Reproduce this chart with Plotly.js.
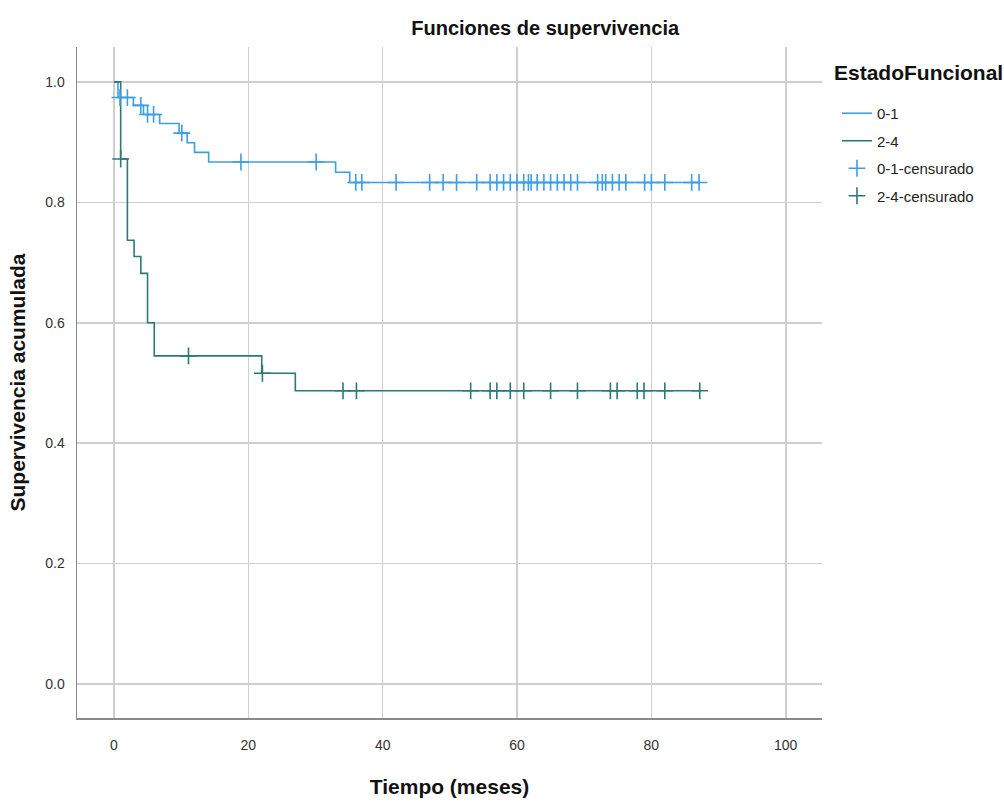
<!DOCTYPE html>
<html>
<head>
<meta charset="utf-8">
<script src="https://cdn.plot.ly/plotly-3.0.1.min.js"></script>
<style>html,body{margin:0;padding:0;background:#fff;}#chart{width:1004px;height:801px;}</style>
</head>
<body>
<div id="chart"></div>
<script>
// Kaplan-Meier step data
const legendTitle = "EstadoFuncional";
const groupNames = ["0-1", "2-4"];
const censorNames = ["0-1-censurado", "2-4-censurado"];

const blueTimes = [0, 0.6, 2.9, 4.4, 6.8, 9.7, 10.9, 12.0, 14.1, 33.0, 35.1];
const blueSurv  = [1.0, 0.974, 0.961, 0.946, 0.931, 0.915, 0.899, 0.883, 0.867, 0.850, 0.833];
const blueEnd = 87.1;
const blueCensor = [0.9, 2.0, 4.0, 5.0, 5.9, 10.1, 18.9, 30.1, 36.0, 36.9, 42, 47, 49, 51, 54, 56, 57, 58, 59, 60, 61, 61.7, 62.1, 63, 64, 65, 66, 67, 68, 69, 72, 72.7, 73.2, 74.2, 75.2, 76.2, 79, 80, 82, 86, 87.1];

const greenTimes = [0, 1.0, 2.0, 3.0, 4.0, 5.0, 6.0, 22.0, 27.0];
const greenSurv  = [1.0, 0.872, 0.737, 0.710, 0.682, 0.600, 0.545, 0.516, 0.487];
const greenEnd = 87.2;
const greenCensor = [1.0, 11.1, 22.1, 34.1, 36.1, 53.1, 56.0, 57.0, 59.0, 61.0, 65.0, 69.0, 73.9, 74.9, 77.9, 78.9, 82.0, 87.2];

const xTicks = [0, 20, 40, 60, 80, 100];
const yTicks = [0.0, 0.2, 0.4, 0.6, 0.8, 1.0];

const blueColor = "#3c9fe6";
const greenColor = "#2b7a75";
const FONT = "'Liberation Sans Narrow', 'Arial Narrow', 'Liberation Sans', Arial, sans-serif";

function levelAt(times, surv, t) {
  let v = surv[0];
  for (let i = 0; i < times.length; i++) { if (t >= times[i]) v = surv[i]; }
  return v;
}
function stepTrace(times, surv, end, name, color) {
  return {
    x: times.concat([end]), y: surv.concat([surv[surv.length - 1]]),
    mode: "lines", line: {shape: "hv", color: color, width: 1.6},
    name: name, legendgroup: name, type: "scatter", hoverinfo: "skip"
  };
}
function censorTrace(times, surv, cens, name, color) {
  return {
    x: cens, y: cens.map(t => levelAt(times, surv, t)),
    mode: "markers", type: "scatter", name: name, legendgroup: name,
    marker: {symbol: "cross-thin", size: 12, color: color, line: {color: color, width: 1.6}},
    hoverinfo: "skip"
  };
}

const traces = [
  stepTrace(blueTimes, blueSurv, blueEnd, groupNames[0], blueColor),
  stepTrace(greenTimes, greenSurv, greenEnd, groupNames[1], greenColor),
  censorTrace(blueTimes, blueSurv, blueCensor, censorNames[0], blueColor),
  censorTrace(greenTimes, greenSurv, greenCensor, censorNames[1], greenColor)
];

const layout = {
  width: 1004, height: 801,
  margin: {l: 77, r: 182, t: 47, b: 83, autoexpand: false},
  paper_bgcolor: "#ffffff", plot_bgcolor: "#ffffff",
  font: {family: FONT, color: "#333333", size: 14},
  title: {text: "<b>Funciones de supervivencia</b>", x: 0.543, xref: "container", xanchor: "center",
          y: 0.965, yref: "container", yanchor: "middle", font: {family: FONT, size: 20, color: "#111111"}},
  xaxis: {
    range: [-5.5, 105.4], tickvals: xTicks, ticktext: xTicks.map(String),
    showgrid: true, gridcolor: "#cfcfcf", gridwidth: 1.6, zeroline: false,
    showline: true, linecolor: "#8a8a8a", linewidth: 1.5, mirror: false,
    ticks: "outside", ticklen: 14, tickcolor: "rgba(0,0,0,0)",
    tickfont: {family: FONT, size: 14, color: "#333333"},
    title: {text: "<b>Tiempo (meses)</b>", font: {family: FONT, size: 21, color: "#111111"}, standoff: 27}
  },
  yaxis: {
    range: [-0.0565, 1.058], tickvals: yTicks, ticktext: yTicks.map(v => v.toFixed(1)),
    showgrid: true, gridcolor: "#cfcfcf", gridwidth: 1.6, zeroline: false,
    showline: true, linecolor: "#8a8a8a", linewidth: 1.5,
    ticks: "outside", ticklen: 8, tickcolor: "rgba(0,0,0,0)",
    tickfont: {family: FONT, size: 14, color: "#333333"},
    title: {text: "<b>Supervivencia acumulada</b>", font: {family: FONT, size: 21, color: "#111111"}, standoff: 14}
  },
  annotations: [{
    text: "<b>" + legendTitle + "</b>", xref: "paper", yref: "paper",
    x: 1.0134, xanchor: "left", y: 0.9627, yanchor: "middle", showarrow: false,
    font: {family: FONT, size: 21, color: "#111111"}
  }],
  showlegend: true,
  legend: {
    x: 1.0201, xanchor: "left", y: 0.9255, yanchor: "top",
    font: {family: FONT, size: 15, color: "#222222"},
    tracegroupgap: 5, bgcolor: "rgba(0,0,0,0)"
  }
};

Plotly.newPlot("chart", traces, layout, {displayModeBar: false, staticPlot: true});
</script>
</body>
</html>
